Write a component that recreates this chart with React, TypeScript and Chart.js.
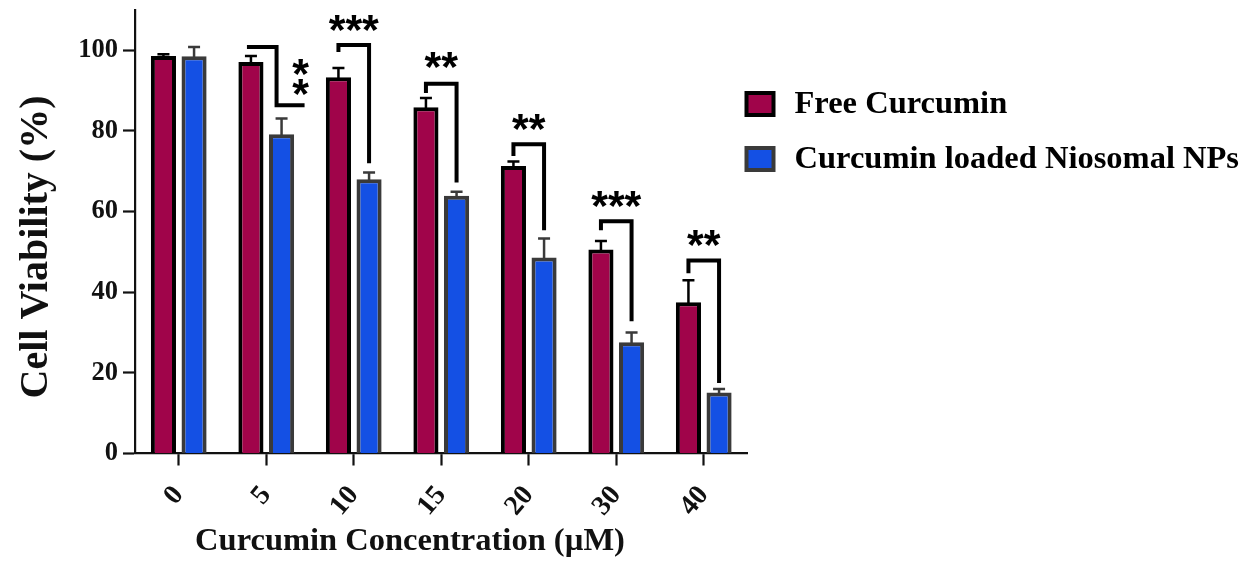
import React, { useEffect, useRef } from "react";
import { Chart, registerables } from "chart.js";

Chart.register(...registerables);

// ---------- data ----------
const categories = ["0", "5", "10", "15", "20", "30", "40"];
const seriesLabels = ["Free Curcumin", "Curcumin loaded Niosomal NPs"];
const freeCurcumin = [98.6, 97.1, 93.3, 85.9, 71.3, 50.6, 37.5];
const freeCurcuminSD = [0.4, 1.5, 2.3, 2.3, 1.1, 2.1, 5.5];
const niosomalNPs = [98.5, 79.2, 68.0, 63.9, 48.6, 27.6, 15.1];
const niosomalNPsSD = [2.3, 3.9, 1.7, 1.0, 4.7, 2.4, 0.9];
const yMin = 0;
const yMax = 110;
const yStep = 20;
const xTitle = "Curcumin Concentration (µM)";
const yTitle = "Cell Viability (%)";

// significance brackets (values in data units)
const sigMarks = [[], ["*", "*"], ["***"], ["**"], ["**"], ["***"], ["**"]];
const sigMarkLevels = [[], [95.8, 90.8], [106.8], [97.5], [82.3], [63.1], [53.5]];
const bracketTop = [NaN, 100.8, 101.3, 91.7, 76.7, 57.6, 47.9];
const bracketLeftEnd = [NaN, NaN, 99.6, 89.4, 73.8, 55.4, 44.7];
const bracketRightEnd = [NaN, 86.4, 72.0, 67.2, 55.4, 32.8, 17.5];

// ---------- styles ----------
const SERIF = "'Liberation Serif', 'Times New Roman', serif";
const RED = "#A0044A";
const BLUE = "#1450E4";
const RED_BORDER = "#000000";
const BLUE_BORDER = "#3a3a3a";
const AXIS = "#111111";

const errorBarPlugin = {
  id: "errorBars",
  afterDatasetsDraw(chart: any) {
    const ctx = chart.ctx;
    const y = chart.scales.y;
    const sds = [freeCurcuminSD, niosomalNPsSD];
    const colors = [RED_BORDER, BLUE_BORDER];
    chart.data.datasets.forEach((ds: any, di: number) => {
      const meta = chart.getDatasetMeta(di);
      meta.data.forEach((bar: any, i: number) => {
        const v = ds.data[i];
        const top = y.getPixelForValue(v + sds[di][i]);
        ctx.save();
        ctx.strokeStyle = colors[di];
        ctx.lineWidth = 2.5;
        ctx.beginPath();
        ctx.moveTo(bar.x, bar.y + 2);
        ctx.lineTo(bar.x, top);
        ctx.moveTo(bar.x - 6, top);
        ctx.lineTo(bar.x + 6, top);
        ctx.stroke();
        ctx.restore();
      });
    });
  },
};

const bracketPlugin = {
  id: "brackets",
  afterDatasetsDraw(chart: any) {
    const ctx = chart.ctx;
    const y = chart.scales.y;
    const redMeta = chart.getDatasetMeta(0);
    const blueMeta = chart.getDatasetMeta(1);
    ctx.save();
    ctx.strokeStyle = "#000";
    ctx.fillStyle = "#000";
    ctx.lineWidth = 4;
    ctx.lineJoin = "miter";
    ctx.lineCap = "butt";
    categories.forEach((_, i) => {
      if (isNaN(bracketTop[i])) return;
      const lx = redMeta.data[i].x;
      const rx = blueMeta.data[i].x;
      const yt = y.getPixelForValue(bracketTop[i]);
      const yr = y.getPixelForValue(bracketRightEnd[i]);
      let starX = (lx + rx) / 2;
      ctx.beginPath();
      if (isNaN(bracketLeftEnd[i])) {
        const vx = rx - 5;
        ctx.moveTo(lx - 4, yt);
        ctx.lineTo(vx, yt);
        ctx.lineTo(vx, yr);
        ctx.lineTo(rx + 23, yr);
        starX = rx + 19;
      } else {
        const yl = y.getPixelForValue(bracketLeftEnd[i]);
        ctx.moveTo(lx, yl);
        ctx.lineTo(lx, yt);
        ctx.lineTo(rx, yt);
        ctx.lineTo(rx, yr);
      }
      ctx.stroke();
      ctx.font = "bold 43px 'Liberation Sans', Arial, sans-serif";
      ctx.textAlign = "center";
      ctx.textBaseline = "alphabetic";
      sigMarks[i].forEach((mark, k) => {
        const cy = y.getPixelForValue(sigMarkLevels[i][k]);
        const m = ctx.measureText(mark);
        const A = m.actualBoundingBoxAscent;
        const D = m.actualBoundingBoxDescent;
        ctx.fillText(mark, starX, cy + (A - D) / 2);
      });
    });
    ctx.restore();
  },
};

const titlesAndLegendPlugin = {
  id: "titlesAndLegend",
  afterDraw(chart: any) {
    const ctx = chart.ctx;
    const area = chart.chartArea;
    ctx.save();
    // axis titles
    ctx.fillStyle = AXIS;
    ctx.textAlign = "center";
    ctx.textBaseline = "middle";
    ctx.font = `bold 32.5px ${SERIF}`;
    ctx.fillText(xTitle, area.left + 275, 534);
    ctx.save();
    ctx.translate(29, 239);
    ctx.rotate(-Math.PI / 2);
    ctx.font = `bold 40px ${SERIF}`;
    ctx.fillText(yTitle, 0, 0);
    ctx.restore();
    // legend
    const x0 = area.right - 3;
    const rows = [
      { label: seriesLabels[0], fill: RED, stroke: RED_BORDER, top: 83 },
      { label: seriesLabels[1], fill: BLUE, stroke: BLUE_BORDER, top: 138 },
    ];
    rows.forEach((r) => {
      const w = 31;
      const h = 26;
      ctx.fillStyle = r.stroke;
      ctx.fillRect(x0, r.top, w, h);
      ctx.fillStyle = r.fill;
      ctx.fillRect(x0 + 4, r.top + 4, w - 8, h - 8);
      ctx.fillStyle = "#000";
      ctx.font = `bold 32.5px ${SERIF}`;
      ctx.textAlign = "left";
      ctx.textBaseline = "middle";
      ctx.fillText(r.label, x0 + 50, r.top + h / 2 + 1);
    });
    ctx.restore();
  },
};

export default function App() {
  const canvasRef = useRef<HTMLCanvasElement | null>(null);

  useEffect(() => {
    if (!canvasRef.current) return;
    const yTickFont = { family: SERIF, weight: "bold" as const, size: 26.5 };
    const xTickFont = { family: SERIF, weight: "bold" as const, size: 28 };
    const chart = new Chart(canvasRef.current, {
      type: "bar",
      data: {
        labels: categories,
        datasets: [
          {
            label: seriesLabels[0],
            data: freeCurcumin,
            backgroundColor: RED,
            borderColor: RED_BORDER,
            borderWidth: 4,
            categoryPercentage: 0.7,
            barPercentage: 0.82,
          },
          {
            label: seriesLabels[1],
            data: niosomalNPs,
            backgroundColor: BLUE,
            borderColor: BLUE_BORDER,
            borderWidth: 4,
            categoryPercentage: 0.7,
            barPercentage: 0.82,
          },
        ],
      },
      options: {
        animation: false,
        responsive: true,
        maintainAspectRatio: false,
        layout: { padding: { left: 0, right: 500.5, top: 2, bottom: 0 } },
        plugins: {
          legend: { display: false },
          tooltip: { enabled: false },
        },
        scales: {
          x: {
            offset: true,
            grid: {
              offset: false,
              drawOnChartArea: false,
              drawTicks: true,
              tickLength: 12,
              tickWidth: 2.2,
              tickColor: AXIS,
            },
            border: { display: true, color: AXIS, width: 2.2 },
            ticks: {
              font: xTickFont,
              color: AXIS,
              minRotation: 50,
              maxRotation: 50,
              padding: 14,
              autoSkip: false,
            },
            title: { display: false },
            afterFit: (s: any) => {
              s.height = 103.5;
              s.paddingLeft = 0;
              s.paddingRight = 0;
            },
          },
          y: {
            min: yMin,
            max: yMax,
            ticks: {
              stepSize: yStep,
              includeBounds: false,
              font: yTickFont,
              color: AXIS,
              padding: 5,
            },
            grid: {
              drawOnChartArea: false,
              drawTicks: true,
              tickLength: 12,
              tickWidth: 2.2,
              tickColor: AXIS,
            },
            border: { display: true, color: AXIS, width: 2.2 },
            title: { display: false },
            afterFit: (s: any) => {
              s.width = 127;
              s.paddingTop = 0;
              s.paddingBottom = 0;
            },
          },
        },
      } as any,
      plugins: [errorBarPlugin, bracketPlugin, titlesAndLegendPlugin],
    });
    return () => chart.destroy();
  }, []);

  return (
    <div style={{ width: 1240, height: 549, position: "relative" }}>
      <canvas ref={canvasRef} />
    </div>
  );
}
